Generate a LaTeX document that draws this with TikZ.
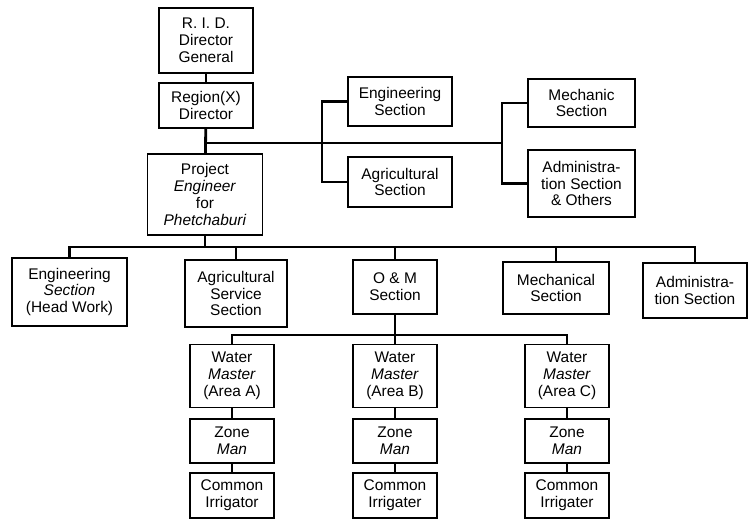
\documentclass[tikz,border=0pt]{standalone}
\usepackage{fontspec}
\setmainfont{Liberation Sans}
\begin{document}
\begin{tikzpicture}[x=1bp, y=-1bp,
    orgbox/.style 2 args={draw, line width=1.6bp, align=center, inner sep=0pt,
        minimum width=#1bp, minimum height=#2bp, font=\fontsize{15.5}{17}\selectfont},
    link/.style={line width=2.8bp}]
    \useasboundingbox (0,0) rectangle (749,519);

    % Direzione
    \node[orgbox={94}{65}] (rid) at (206,40.5) {R. I. D.\\Director\\General};
    \node[orgbox={94}{45}] (region) at (206,105.5) {Region(X)\\Director};
    \node[orgbox={115}{81}] (project) at (205,194.5) {Project\\\textit{Engineer}\\for\\\textit{Phetchaburi}};

    % Sezioni della regione
    \node[orgbox={104}{49}] (regeng) at (400,101.5) {Engineering\\Section};
    \node[orgbox={104}{50}] (regagr) at (400,182) {Agricultural\\Section};
    \node[orgbox={107}{48}] (regmech) at (581.5,103) {Mechanic\\Section};
    \node[orgbox={107}{67}] (regadm) at (581.5,183.5) {Administra-\\tion Section\\\& Others};

    % Sezioni del progetto
    \node[orgbox={115}{68}] (prjeng) at (69.5,292) {Engineering\\\textit{Section}\\(Head Work)};
    \node[orgbox={102}{67}] (prjagr) at (236,293.5) {Agricultural\\Service\\Section};
    \node[orgbox={84}{54}] (prjom) at (395,287) {O \& M\\Section};
    \node[orgbox={106}{52}] (prjmech) at (556,288) {Mechanical\\Section};
    \node[orgbox={104}{55}] (prjadm) at (695,290.5) {Administra-\\tion Section};

    % Collegamenti in alto
    \coordinate (jeng) at (322,143);
    \coordinate (jmech) at (502,143);
    \draw[link] (rid) -- (region);
    \draw[link] (region) -- (project);
    \draw[link] (project.north |- jeng) -- (jmech);
    \draw[link] (regeng.west) -| (jeng) |- (regagr.west);
    \draw[link] (regmech.west) -| (jmech) |- (regadm.west);

    % Linea delle sezioni
    \coordinate (bus) at (0,247);
    \draw[link] (project.south) -- (project.south |- bus);
    \draw[link] (prjeng.north) |- (bus -| prjadm.north) -- (prjadm.north);
    \foreach \n in {prjagr,prjom,prjmech}
        \draw[link] (\n.north) -- (\n.north |- bus);

    % Aree irrigue
    \foreach \area/\xpos/\irr in {A/232/Irrigator, B/395/Irrigater, C/567/Irrigater} {
        \node[orgbox={84}{63}] (wm\area) at (\xpos,376) {Water\\\textit{Master}\\(Area \area)};
        \node[orgbox={84}{44}] (zone\area) at (\xpos,441) {Zone\\\textit{Man}};
        \node[orgbox={84}{45}] (irr\area) at (\xpos,495.5) {Common\\\irr};
        \draw[link] (wm\area) -- (zone\area) -- (irr\area);
    }

    \coordinate (sub) at (0,335);
    \draw[link] (prjom.south) -- (prjom.south |- sub);
    \draw[link] (wmA.north) |- (sub -| wmC.north) -- (wmC.north);
    \draw[link] (wmB.north) -- (wmB.north |- sub);
\end{tikzpicture}
\end{document}
